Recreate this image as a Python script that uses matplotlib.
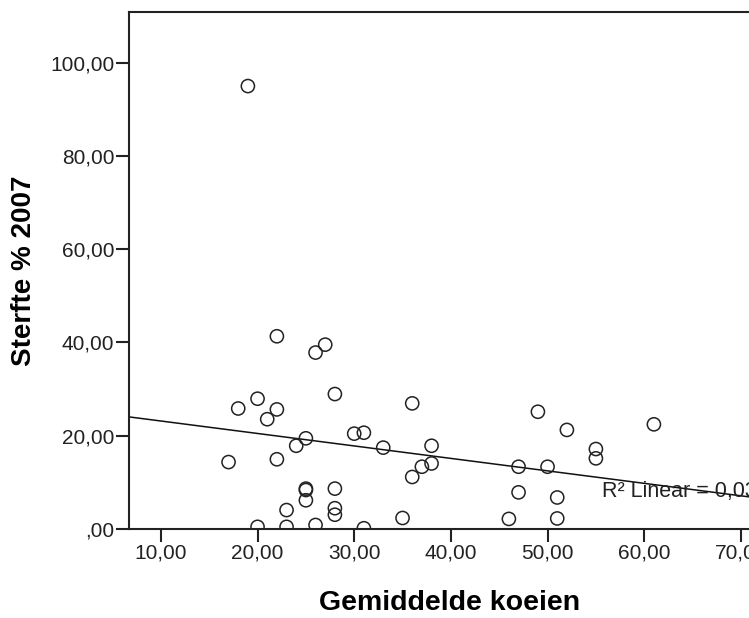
import matplotlib
matplotlib.use("Agg")
import matplotlib.pyplot as plt
import numpy as np

plt.rcParams["font.family"] = ["Liberation Sans", "DejaVu Sans"]

# Data (Gemiddelde koeien vs Sterfte % 2007)
koeien = [22, 27, 26, 28, 36, 49, 18, 20, 22, 21, 52, 61, 30, 31, 25,
          24, 33, 38, 38, 37, 36, 17, 22, 55, 55, 47, 50, 25, 25, 25,
          28, 28, 28, 23, 20, 23, 26, 31, 35, 46, 51, 47, 51, 19]
sterfte = [41.3, 39.5, 37.8, 28.9, 26.9, 25.1, 25.8, 27.9, 25.6, 23.5, 21.2, 22.4, 20.4, 20.6, 19.4,
           17.8, 17.4, 17.8, 14.0, 13.3, 11.1, 14.3, 14.9, 17.1, 15.1, 13.3, 13.3, 8.6, 8.3, 6.1,
           8.6, 4.4, 3.0, 4.0, 0.4, 0.4, 0.8, 0.1, 2.3, 2.1, 2.2, 7.8, 6.7, 95.0]

x_ticks = [10, 20, 30, 40, 50, 60, 70]
y_ticks = [0, 20, 40, 60, 80, 100]
r2_label = "R\u00b2 Linear = 0,037"


def spss_fmt(v):
    s = f"{v:.2f}".replace(".", ",")
    return s[1:] if s.startswith("0,") else s


x = np.array(koeien, dtype=float)
y = np.array(sterfte, dtype=float)
slope, intercept = np.polyfit(x, y, 1)

fig = plt.figure(figsize=(7.49, 6.18), dpi=100)
# axes runs past the right edge of the figure, as in the cropped original
ax = fig.add_axes([0.1722, 0.1445, 0.857, 0.8361])

ax.scatter(x, y, s=90, facecolors="none", edgecolors="#222222", linewidths=1.1, zorder=3)

x_line = np.array([6.7, 73.1])
ax.plot(x_line, intercept + slope * x_line, color="#111111", lw=1.1, zorder=2)

# the R2 label is cut off by the right edge in the original too
ax.text(55.6, 6.9, r2_label, fontsize=15.5, color="#222222", va="baseline", ha="left")

ax.set_xlim(6.7, 73.1)
ax.set_ylim(0, 110.9)
ax.set_xticks(x_ticks)
ax.set_yticks(y_ticks)
ax.set_xticklabels([spss_fmt(v) for v in x_ticks])
ax.set_yticklabels([spss_fmt(v) for v in y_ticks])

for sp in ax.spines.values():
    sp.set_linewidth(1.5)
    sp.set_color("#222222")

ax.tick_params(axis="both", direction="out", length=9.5, width=1.5, color="#222222",
               labelsize=15, labelcolor="#222222", pad=1)

ax.set_xlabel("Gemiddelde koeien", fontsize=20.5, fontweight="bold", va="center")
ax.set_ylabel("Sterfte % 2007", fontsize=20, fontweight="bold", va="center")
ax.xaxis.set_label_coords(0.5, -0.1438)
ax.yaxis.set_label_coords(-0.1636, 0.5)

fig.savefig("out.png", dpi=100)
